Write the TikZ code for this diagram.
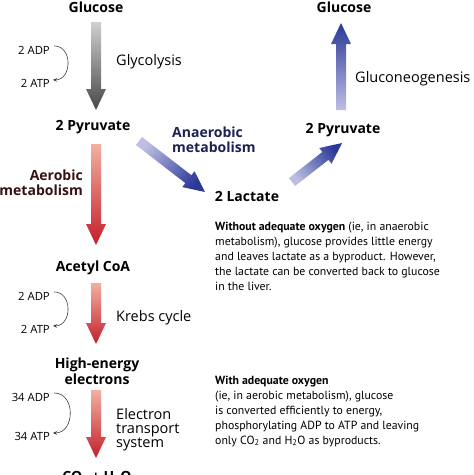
\documentclass[tikz,border=0pt]{standalone}
\usepackage{fontspec}
\setmainfont{Open Sans}
\newfontfamily\parafont{PT Sans}
\usetikzlibrary{calc,arrows.meta}
\definecolor{navytxt}{HTML}{1C2250}
\definecolor{maroontxt}{HTML}{361212}
\definecolor{grayA}{HTML}{D0D0D0}
\definecolor{grayB}{HTML}{474747}
\definecolor{redA}{HTML}{F2B0A2}
\definecolor{redB}{HTML}{C41E2A}
\definecolor{blueA}{HTML}{BDBFE2}
\definecolor{blueB}{HTML}{2A3898}
\newcommand\stackL[1]{\vtop{\halign{##\hfil\cr#1\crcr}}}
\newcommand\stackR[1]{\vtop{\halign{\hfil##\cr#1\crcr}}}
\newcommand\stackC[1]{\vtop{\halign{\hfil##\hfil\cr#1\crcr}}}
\newcommand\fatarr[4]{%
  \path let \p1=($(#2)-(#1)$), \n1={atan2(\y1,\x1)-90} in \pgfextra{\xdef\fashang{\n1}};
  \coordinate (fa-n) at ($(#2)!21pt!(#1)$);
  \shade[top color=#4, bottom color=#3, shading angle=\fashang]
    ($(#1)!5pt!90:(#2)$) -- ($(fa-n)!5pt!-90:(#1)$) -- ($(fa-n)!10pt!-90:(#1)$) -- (#2)
    -- ($(fa-n)!10pt!90:(#1)$) -- ($(fa-n)!5pt!90:(#1)$) -- ($(#1)!5pt!-90:(#2)$) -- cycle;
}
\begin{document}
\begin{tikzpicture}[x=1pt,y=-1pt,
  bl/.style={font=\fontsize{14}{15}\selectfont\bfseries, inner sep=0, anchor=base},
  lb/.style={font=\fontsize{14.5}{14}\selectfont, inner sep=0, anchor=base west},
  sm/.style={font=\fontsize{11.3}{12}\selectfont, inner sep=0, anchor=base east},
  para/.style={font=\parafont\fontsize{11.8}{15}\selectfont, inner sep=0, anchor=base west},
  cyc/.style={draw=black!75, line width=0.6pt, -{Stealth[length=4pt,width=3.6pt]}}]
\useasboundingbox (0,0) rectangle (474,475);
\fill[white] (0,0) rectangle (474,475);
\clip (0,0) rectangle (474,475);

% left column
\node[bl] (gl1) at (96,12) {Glucose};
\node[sm] (adp1) at (50,54) {2 ADP};
\node[sm] (atp1) at (50,87) {2 ATP};
\node[lb] (glyc) at (116,65) {Glycolysis};
\node[bl] (pyr1) at (93,130) {2 Pyruvate};
\node[bl, anchor=base east, text=maroontxt] (aer) at (83,180) {\stackR{Aerobic\cr metabolism}};
\node[bl] (acoa) at (93,271) {Acetyl CoA};
\node[sm] (adp2) at (50,300) {2 ADP};
\node[sm] (atp2) at (50,333) {2 ATP};
\node[lb] (krebs) at (116,321) {Krebs cycle};
\node[bl] (hee) at (97,368) {\fontsize{14}{16}\selectfont\stackC{High-energy\cr electrons}};
\node[sm] (adp3) at (50,401) {34 ADP};
\node[sm] (atp3) at (50,440) {34 ATP};
\node[lb] (ets) at (116,419) {\stackL{Electron\cr transport\cr system}};
\node[bl] (co2) at (97,481) {CO\textsubscript{2} + H\textsubscript{2}O};

% right side
\node[bl, anchor=base west, text=navytxt] (anaer) at (172,137) {\stackL{Anaerobic\cr metabolism}};
\node[bl] (lac) at (247,201) {2 Lactate};
\node[bl] (pyr2) at (343,133) {2 Pyruvate};
\node[bl] (gl2) at (344,12) {Glucose};
\node[lb] (gng) at (355,82) {Gluconeogenesis};

\node[para] (txt1) at (215,230) {\stackL{\textbf{Without adequate oxygen} (ie, in anaerobic\cr
metabolism), glucose provides little energy\cr
and leaves lactate as a byproduct. However,\cr
the lactate can be converted back to glucose\cr
in the liver.}};
\node[para] (txt2) at (215,384) {\stackL{\textbf{With adequate oxygen}\cr
(ie, in aerobic metabolism), glucose\cr
is converted efficiently to energy,\cr
phosphorylating ADP to ATP and leaving\cr
only CO\textsubscript{2} and H\textsubscript{2}O as byproducts.}};

% arrow end points
\coordinate (a1s) at (96,22);  \coordinate (a1e) at (96,110);
\coordinate (a2s) at (96,144); \coordinate (a2e) at (96,245);
\coordinate (a3s) at (96,283); \coordinate (a3e) at (96,344);
\coordinate (a4s) at (96,390); \coordinate (a4e) at (96,458);
\coordinate (b1s) at (139,141); \coordinate (b1e) at (205,192);
\coordinate (b2s) at (292,182); \coordinate (b2e) at (342,143);
\coordinate (b3s) at (341,110); \coordinate (b3e) at (341,23);

\fatarr{a1s}{a1e}{grayA}{grayB}
\fatarr{a2s}{a2e}{redA}{redB}
\fatarr{a3s}{a3e}{redA}{redB}
\fatarr{a4s}{a4e}{redA}{redB}
\fatarr{b1s}{b1e}{blueA}{blueB}
\fatarr{b2s}{b2e}{blueA}{blueB}
\fatarr{b3s}{b3e}{blueA}{blueB}

% ADP -> ATP curved arrows
\draw[cyc] ($(adp1.east)+(4,-4)$) .. controls +(19,0) and +(19,0) .. ($(atp1.east)+(3,-3)$);
\draw[cyc] ($(adp2.east)+(4,-4)$) .. controls +(19,0) and +(19,0) .. ($(atp2.east)+(3,-3)$);
\draw[cyc] ($(adp3.east)+(4,-4)$) .. controls +(22,0) and +(22,0) .. ($(atp3.east)+(3,-3)$);
\end{tikzpicture}
\end{document}
